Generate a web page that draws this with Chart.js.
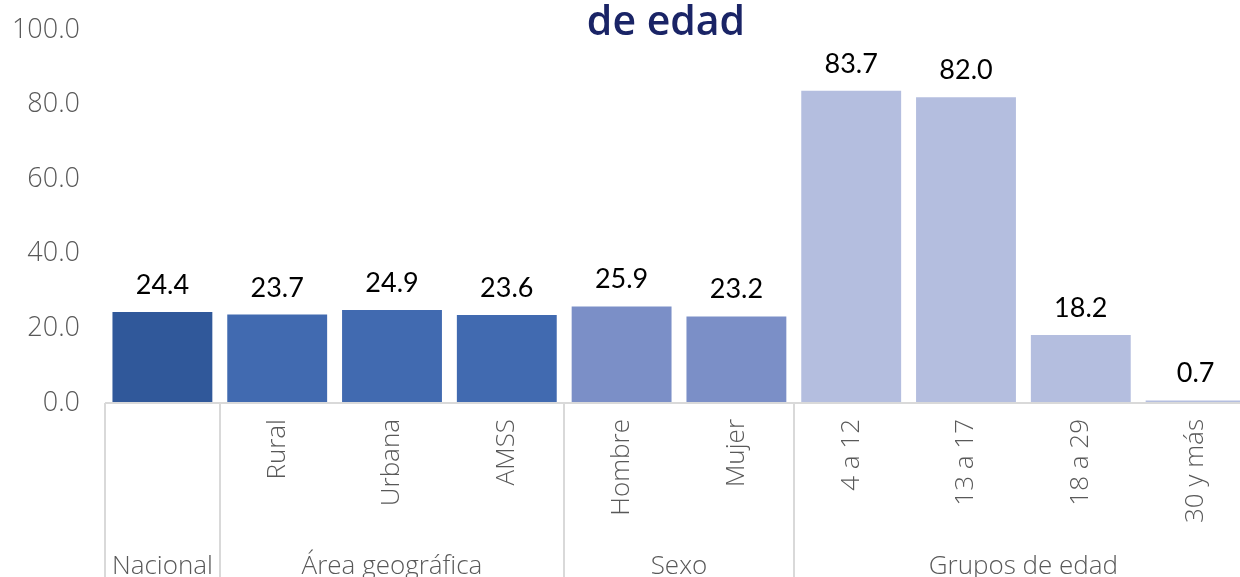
<!DOCTYPE html>
<html>
<head>
<meta charset="utf-8">
<script src="https://cdn.jsdelivr.net/npm/chart.js@4"></script>
<style>
  html, body { margin: 0; padding: 0; background: #fff; overflow: hidden; }
  #wrap { width: 1240px; height: 577px; overflow: hidden; }
  #box { width: 1253px; height: 577px; }
</style>
</head>
<body>
<div id="wrap"><div id="box"><canvas id="chart"></canvas></div></div>
<script>
const categories = ["", "Rural", "Urbana", "AMSS", "Hombre", "Mujer", "4 a 12", "13 a 17", "18 a 29", "30 y más"]
const values = [24.4, 23.7, 24.9, 23.6, 25.9, 23.2, 83.7, 82.0, 18.2, 0.7]
const groupNames = ["Nacional", "Área geográfica", "Sexo", "Grupos de edad"]
const groupSizes = [1, 3, 2, 4]
const yTicks = [0, 20, 40, 60, 80, 100]

const groupColors = ["#30589a", "#416ab0", "#7b8fc7", "#b4bedf"]
const barColors = []
groupSizes.forEach((n, g) => { for (let i = 0; i < n; i++) barColors.push(groupColors[g]) })

const AXIS_FONT = "'Open Sans', sans-serif"
const LABEL_FONT = "Lato, sans-serif"

// value labels above each bar
const valueLabels = {
  id: "valueLabels",
  afterDatasetsDraw(chart) {
    const ctx = chart.ctx
    const meta = chart.getDatasetMeta(0)
    ctx.save()
    ctx.font = "27px " + LABEL_FONT
    ctx.fillStyle = "#000"
    ctx.textAlign = "center"
    ctx.textBaseline = "alphabetic"
    meta.data.forEach((bar, i) => {
      ctx.fillText(values[i].toFixed(1), bar.x, bar.y - 18)
    })
    ctx.restore()
  }
}

// second level of the category axis: separators and group names
const groupAxis = {
  id: "groupAxis",
  afterDraw(chart) {
    const ctx = chart.ctx
    const x = chart.scales.x
    const area = chart.chartArea
    const step = (x.right - x.left) / categories.length
    ctx.save()
    ctx.strokeStyle = "#d9d9d9"
    ctx.lineWidth = 2
    ctx.beginPath()
    ctx.moveTo(x.left, area.bottom)
    ctx.lineTo(x.right, area.bottom)
    ctx.stroke()
    let start = 0
    ctx.font = "300 26px " + AXIS_FONT
    ctx.fillStyle = "#595959"
    ctx.textAlign = "center"
    ctx.textBaseline = "middle"
    groupSizes.forEach((n, g) => {
      const x0 = x.left + start * step
      const x1 = x.left + (start + n) * step
      ctx.beginPath()
      ctx.moveTo(Math.round(x0), area.bottom)
      ctx.lineTo(Math.round(x0), chart.height)
      ctx.stroke()
      ctx.fillText(groupNames[g], (x0 + x1) / 2, 567)
      start += n
    })
    ctx.restore()
  }
}

// title, only the last line is visible
const titleLine = {
  id: "titleLine",
  afterDraw(chart) {
    const ctx = chart.ctx
    ctx.save()
    ctx.font = "600 41px " + AXIS_FONT
    ctx.fillStyle = "#1a2466"
    ctx.textAlign = "center"
    ctx.textBaseline = "alphabetic"
    ctx.fillText("de edad", 666, 35)
    ctx.restore()
  }
}

new Chart(document.getElementById("chart"), {
  type: "bar",
  data: {
    labels: categories,
    datasets: [{
      data: values,
      backgroundColor: barColors,
      barPercentage: 0.87,
      categoryPercentage: 1
    }]
  },
  options: {
    responsive: true,
    maintainAspectRatio: false,
    animation: false,
    layout: { padding: { top: 30, right: 0, left: 0, bottom: 0 } },
    plugins: {
      legend: { display: false },
      tooltip: { enabled: false },
      title: { display: false }
    },
    scales: {
      x: {
        grid: { display: false, drawTicks: false },
        border: { display: false },
        ticks: {
          minRotation: 90,
          maxRotation: 90,
          autoSkip: false,
          padding: 16,
          color: "#595959",
          font: { family: AXIS_FONT, size: 26, weight: 300 }
        },
        afterFit(scale) { scale.height = 174 }
      },
      y: {
        min: 0,
        max: 100,
        afterBuildTicks(scale) { scale.ticks = yTicks.map(v => ({ value: v })) },
        grid: { display: false, drawTicks: false },
        border: { display: false },
        ticks: {
          padding: 25,
          color: "#595959",
          font: { family: AXIS_FONT, size: 27, weight: 300 },
          callback: v => v.toFixed(1)
        },
        afterFit(scale) {
          scale.width = 105
          scale.paddingTop = 0
          scale.paddingBottom = 0
        }
      }
    }
  },
  plugins: [valueLabels, groupAxis, titleLine]
})
</script>
</body>
</html>
